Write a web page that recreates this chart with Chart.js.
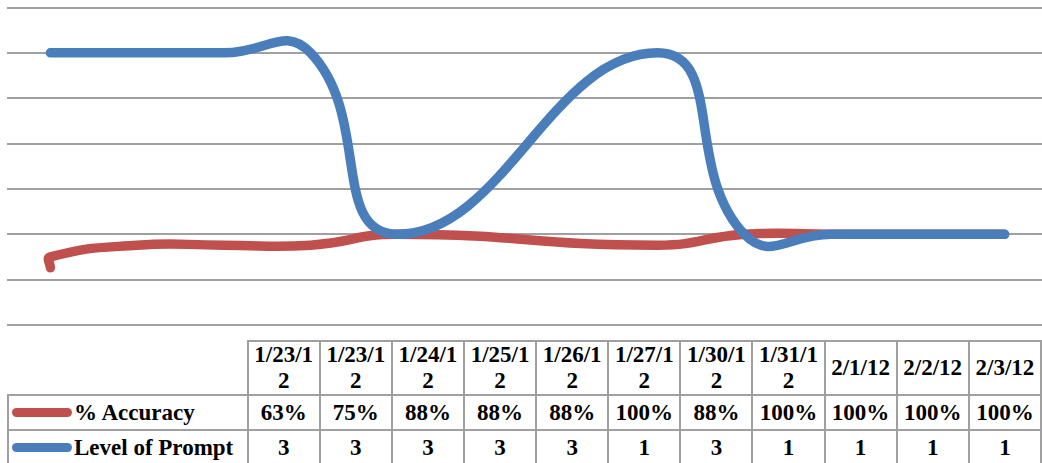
<!DOCTYPE html>
<html>
<head>
<meta charset="utf-8">
<title>% Accuracy and Level of Prompt</title>
<script src="https://cdn.jsdelivr.net/npm/chart.js@4.4.0/dist/chart.umd.min.js"></script>
<style>
  html, body { margin: 0; padding: 0; background: #fff; width: 1042px; height: 463px; overflow: hidden; }
  #plot { position: absolute; left: 0; top: 0; width: 1048px; height: 332px; }
  #table {
    position: absolute; left: 7px; top: 340px;
    border-collapse: collapse; table-layout: fixed;
  }
  #table td {
    font-family: "Liberation Serif", "Times New Roman", serif;
    font-weight: bold; font-size: 23px; color: #000;
    border: 2px solid #a0a0a0; text-align: center; vertical-align: middle;
    padding: 0 4px; line-height: 26px; white-space: normal; word-break: break-all;
  }
  #table tr.head td { height: 52px; }
  #table tr.row td { height: 33px; line-height: 33px; }
  #table td.corner { border-top: none; border-left: none; }
  #table tr.row td.key { text-align: left; padding: 0 0 0 3px; white-space: nowrap; word-break: normal; }
  .swatch { display: inline-block; width: 60px; height: 9px; border-radius: 5px; vertical-align: middle; margin-right: 2px; position: relative; top: -2px; }
</style>
</head>
<body>
<canvas id="plot" width="1048" height="332"></canvas>
<table id="table"></table>
<script>
// Session dates, accuracy (%) and prompt level for each session
const dates = ["1/23/12", "1/23/12", "1/24/12", "1/25/12", "1/26/12", "1/27/12", "1/30/12", "1/31/12", "2/1/12", "2/2/12", "2/3/12"];
const accuracy = [63, 75, 88, 88, 88, 100, 88, 100, 100, 100, 100];
const promptLevel = [3, 3, 3, 3, 3, 1, 3, 1, 1, 1, 1];
const seriesNames = ["% Accuracy", "Level of Prompt"];
const seriesColors = ["#c0504d", "#4a7ebb"];

// Day number for an m/d/yy date, so sessions sit on a calendar-spaced axis
function dayNumber(s) {
  const [m, d, y] = s.split("/").map(Number);
  return Date.UTC(2000 + y, m - 1, d) / 86400000;
}
const days = dates.map(dayNumber);
const firstDay = Math.min(...days);
const lastDay = Math.max(...days);

const accuracyPoints = dates.map((_, i) => ({ x: days[i], y: accuracy[i] / 100 }));
const promptPoints = dates.map((_, i) => ({ x: days[i], y: promptLevel[i] }));

new Chart(document.getElementById("plot"), {
  type: "line",
  data: {
    datasets: [
      {
        label: seriesNames[0], data: accuracyPoints, order: 1,
        borderColor: seriesColors[0], borderWidth: 9.5, tension: 0.5,
        borderCapStyle: "round", borderJoinStyle: "round", pointRadius: 0, fill: false
      },
      {
        label: seriesNames[1], data: promptPoints, order: 0,
        borderColor: seriesColors[1], borderWidth: 9.5, tension: 0.5,
        borderCapStyle: "round", borderJoinStyle: "round", pointRadius: 0, fill: false
      }
    ]
  },
  options: {
    responsive: false,
    animation: false,
    layout: { padding: { left: 7, right: 0, top: 7.5, bottom: 7 } },
    plugins: { legend: { display: false }, tooltip: { enabled: false } },
    scales: {
      x: { type: "linear", min: firstDay - 0.5, max: lastDay + 0.5, display: false },
      y: {
        min: 0, max: 3.5,
        ticks: { display: false, stepSize: 0.5 },
        grid: { color: "#a0a0a0", lineWidth: 2, drawTicks: false },
        border: { display: false },
        afterFit: (scale) => { scale.width = 0; }
      }
    }
  }
});

// Data table under the plot
const table = document.getElementById("table");
const colgroup = document.createElement("colgroup");
const firstCol = document.createElement("col");
firstCol.style.width = "240px";
colgroup.appendChild(firstCol);
dates.forEach(() => {
  const c = document.createElement("col");
  c.style.width = "72.75px";
  colgroup.appendChild(c);
});
table.appendChild(colgroup);

const head = document.createElement("tr");
head.className = "head";
const corner = document.createElement("td");
corner.className = "corner";
head.appendChild(corner);
dates.forEach(d => {
  const td = document.createElement("td");
  td.textContent = d;
  head.appendChild(td);
});
table.appendChild(head);

function addRow(name, color, values) {
  const tr = document.createElement("tr");
  tr.className = "row";
  const key = document.createElement("td");
  key.className = "key";
  const sw = document.createElement("span");
  sw.className = "swatch";
  sw.style.background = color;
  key.appendChild(sw);
  key.appendChild(document.createTextNode(name));
  tr.appendChild(key);
  values.forEach(v => {
    const td = document.createElement("td");
    td.textContent = v;
    tr.appendChild(td);
  });
  table.appendChild(tr);
}
addRow(seriesNames[0], seriesColors[0], accuracy.map(v => v + "%"));
addRow(seriesNames[1], seriesColors[1], promptLevel.map(v => String(v)));
</script>
</body>
</html>
